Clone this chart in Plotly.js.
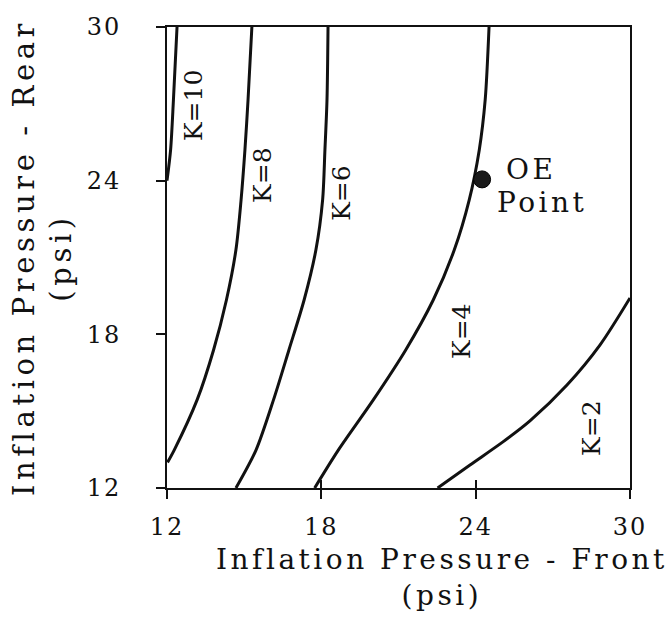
<!DOCTYPE html>
<html>
<head>
<meta charset="utf-8">
<script src="https://cdn.plot.ly/plotly-3.0.1.min.js"></script>
<style>
body{margin:0;background:#fff;}
#chart{width:668px;height:620px;}
#chart .ytitle{letter-spacing:4.6px;}
#chart .xtick text, #chart .ytick text{letter-spacing:2px;}
</style>
</head>
<body>
<div id="chart"></div>
<script>
// Curves of constant K (front pressure x, rear pressure y), psi
const k10x = [12.39, 12.25, 12.14, 12.0];
const k10y = [30, 27.15, 25.2, 24.0];
const k8x = [15.30, 15.15, 15.03, 14.88, 14.68, 14.31, 13.81, 13.17, 12.28, 12.02];
const k8y = [30, 27.15, 25.20, 23.25, 21.30, 19.34, 17.39, 15.44, 13.48, 13.0];
const k6x = [18.26, 18.22, 18.14, 18.05, 17.79, 17.33, 16.74, 16.14, 15.46, 14.68];
const k6y = [30, 27.15, 25.20, 23.25, 21.30, 19.34, 17.39, 15.44, 13.48, 12];
const k4x = [24.52, 24.37, 24.14, 23.75, 23.17, 22.35, 21.28, 20.02, 18.66, 17.74];
const k4y = [30, 27.15, 25.20, 23.25, 21.30, 19.34, 17.39, 15.44, 13.48, 12];
const k2x = [30.0, 28.83, 27.55, 26.11, 25.06, 23.78, 22.52];
const k2y = [19.42, 17.58, 16.02, 14.62, 13.80, 12.90, 12];
const oeX = [24.25];
const oeY = [24.05];
const kLabels = ["K=10", "K=8", "K=6", "K=4", "K=2"];
const kLabelX = [13.01, 15.69, 18.80, 23.43, 28.48];
const kLabelY = [26.95, 24.22, 23.52, 18.13, 14.34];
const tickVals = [12, 18, 24, 30];

const FONT = "DejaVu Serif, Liberation Serif, serif";
const INK = "#111";
const lineStyle = {color: INK, width: 3, shape: "spline", smoothing: 0.8};

const traces = [
  {x: k10x, y: k10y, name: "K=10"},
  {x: k8x, y: k8y, name: "K=8"},
  {x: k6x, y: k6y, name: "K=6"},
  {x: k4x, y: k4y, name: "K=4"},
  {x: k2x, y: k2y, name: "K=2"}
].map(t => Object.assign(t, {type: "scatter", mode: "lines", line: lineStyle, hoverinfo: "skip"}));

traces.push({x: oeX, y: oeY, type: "scatter", mode: "markers", name: "OE Point",
  marker: {size: 17, color: "#1a1a1a", line: {color: "#000", width: 1}}});
traces.push({x: [], y: [], xaxis: "x2", yaxis: "y", type: "scatter", showlegend: false});

const spaced = (t, px) => '<span style="letter-spacing:' + px + 'px">' + t + '</span>';

const annotations = kLabels.map((t, i) => ({
  x: kLabelX[i], y: kLabelY[i], xref: "x", yref: "y", text: t, textangle: -90,
  showarrow: false, font: {family: FONT, size: 25, color: INK}
}));
annotations.push({x: 26.15, y: 24.42, xref: "x", yref: "y", text: spaced("OE", 3.5), showarrow: false,
  font: {family: FONT, size: 28, color: INK}});
annotations.push({x: 26.58, y: 23.13, xref: "x", yref: "y", text: spaced("Point", 3.5), showarrow: false,
  font: {family: FONT, size: 28, color: INK}});
annotations.push({x: 0.593, y: -0.115, xref: "paper", yref: "paper", yanchor: "top",
  text: spaced("Inflation Pressure - Front", 3.5) + "<br>" + spaced("(psi)", 3.5),
  showarrow: false, align: "center",
  font: {family: FONT, size: 28, color: INK}});

const axisCommon = {
  range: [12, 30], tickmode: "array", tickvals: tickVals, ticktext: tickVals.map(String),
  showgrid: false, zeroline: false, showline: true, linewidth: 2, linecolor: INK,
  mirror: true, ticks: "outside", ticklen: 9, tickwidth: 2, tickcolor: INK,
  tickfont: {family: FONT, size: 24, color: INK}
};

const layout = {
  width: 668, height: 620,
  margin: {l: 167, r: 38, t: 27, b: 132},
  paper_bgcolor: "#fff", plot_bgcolor: "#fff",
  showlegend: false,
  xaxis: Object.assign({}, axisCommon, {ticklabelstandoff: 7}),
  xaxis2: {range: [12, 30], overlaying: "x", anchor: "y", side: "bottom", tickmode: "array",
    tickvals: [18, 24], ticks: "inside", ticklen: 8, tickwidth: 2, tickcolor: INK,
    showticklabels: false, showgrid: false, zeroline: false, showline: false},
  yaxis: Object.assign({}, axisCommon, {ticklabelstandoff: 30,
    title: {text: "Inflation Pressure - Rear<br>(psi)", standoff: 10,
      font: {family: FONT, size: 29, color: INK}}}),
  annotations: annotations
};

Plotly.newPlot("chart", traces, layout, {staticPlot: true, displayModeBar: false});
</script>
</body>
</html>
